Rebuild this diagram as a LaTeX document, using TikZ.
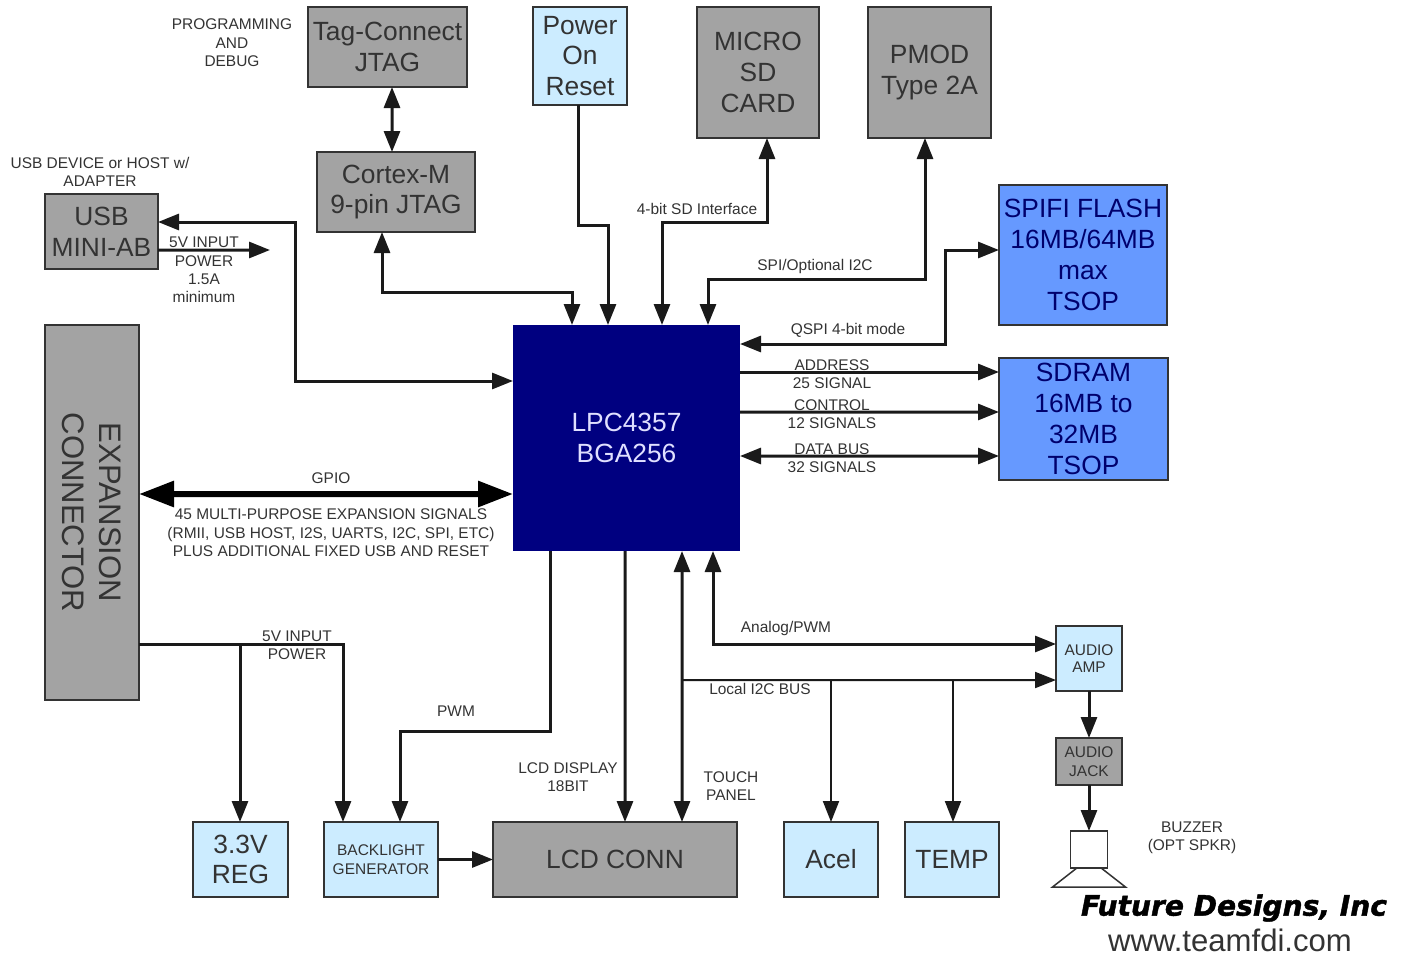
\documentclass[tikz,border=0pt]{standalone}
\usepackage{fontspec}
\setmainfont{Liberation Sans}
\newfontfamily\logofont[BoldItalicFeatures={FakeBold=1.5}]{DejaVu Sans}
\usetikzlibrary{shapes.geometric, arrows.meta, positioning}
\definecolor{grayblock}{HTML}{A3A3A3}
\definecolor{lightblock}{HTML}{CCECFF}
\definecolor{blueblock}{HTML}{6699FF}
\definecolor{chipblock}{HTML}{000080}
\definecolor{inkline}{HTML}{1A1A1A}
\definecolor{inktext}{HTML}{333333}

\begin{document}
\begin{tikzpicture}[node distance=1cm and 1cm]

  % styles
  \tikzstyle{block} = [rectangle, draw=inktext, line width=.04cm, outer sep=0pt, inner sep=0pt, align=center, text=inktext, font=\fontsize{15}{17.5}\selectfont]
  \tikzstyle{graybox} = [block, fill=grayblock]
  \tikzstyle{lightbox} = [block, fill=lightblock]
  \tikzstyle{bluebox} = [block, fill=blueblock, text=chipblock!85!black]
  \tikzstyle{note} = [align=center, text=inktext, font=\fontsize{8.8}{10.5}\selectfont]
  \tikzstyle{arrow} = [line width=.06cm, draw=inkline, >={Triangle[length=.42cm,width=.32cm]}]
  \tikzstyle{thinarrow} = [arrow, line width=.04cm]
  \tikzstyle{busarrow} = [line width=.12cm, draw=black, >={Triangle[length=.7cm,width=.5cm]}]

  \useasboundingbox (0,0) rectangle (28.02,-19.1);

  % chip
  \node (lpc) [rectangle, fill=chipblock, outer sep=0pt, minimum width=4.54cm, minimum height=4.52cm, align=center, text=white!88!blue, font=\fontsize{15}{17.5}\selectfont] at (12.53,-8.76) {LPC4357\\BGA256};

  % top row
  \node (por) [lightbox, minimum width=1.88cm, minimum height=1.96cm, above=4.4cm of lpc, xshift=-.93cm] {Power\\On\\Reset};
  \node (tag) [graybox, minimum width=3.18cm, minimum height=1.6cm, left=1.32cm of por.north west, anchor=north east] {Tag-Connect\\JTAG};
  \node (jtag) [graybox, minimum width=3.16cm, minimum height=1.6cm, below=1.3cm of tag, xshift=.17cm] {Cortex-M\\9-pin JTAG};
  \node (sd) [graybox, minimum width=2.44cm, minimum height=2.62cm, right=1.4cm of por.north east, anchor=north west] {MICRO\\SD\\CARD};
  \node (pmod) [graybox, minimum width=2.46cm, minimum height=2.62cm, right=.98cm of sd] {PMOD\\Type 2A};

  % right side
  \node (spifi) [bluebox, minimum width=3.36cm, minimum height=2.8cm, right=5.18cm of lpc.north east, anchor=south west] {SPIFI FLASH\\16MB/64MB\\max\\TSOP};
  \node (sdram) [bluebox, minimum width=3.38cm, minimum height=2.44cm, below=.66cm of spifi.south west, anchor=north west] {SDRAM\\16MB to\\32MB\\TSOP};

  % left side
  \node (usb) [graybox, minimum width=2.26cm, minimum height=1.5cm] at (2.03,-4.63) {USB\\MINI-AB};
  \node (exp) [graybox, rotate=-90, minimum width=7.5cm, minimum height=1.88cm, font=\fontsize{17.7}{21}\selectfont] at (1.84,-10.25) {EXPANSION\\CONNECTOR};

  % bottom row
  \node (reg) [lightbox, minimum width=1.9cm, minimum height=1.5cm] at (4.81,-17.19) {3.3V\\REG};
  \node (bl) [lightbox, minimum width=2.28cm, minimum height=1.5cm, right=.72cm of reg, font=\fontsize{8.8}{10.5}\selectfont] {BACKLIGHT\\GENERATOR};
  \node (lcd) [graybox, minimum width=4.88cm, minimum height=1.5cm, right=1.1cm of bl] {LCD CONN};
  \node (acel) [lightbox, minimum width=1.88cm, minimum height=1.5cm, right=.94cm of lcd] {Acel};
  \node (temp) [lightbox, minimum width=1.88cm, minimum height=1.5cm, right=.54cm of acel] {TEMP};

  % audio
  \node (amp) [lightbox, minimum width=1.32cm, minimum height=1.3cm, font=\fontsize{8.8}{10}\selectfont] at (21.78,-13.17) {AUDIO\\AMP};
  \node (jack) [graybox, minimum width=1.32cm, minimum height=.94cm, below=.94cm of amp, font=\fontsize{8.8}{10.5}\selectfont] {AUDIO\\JACK};
  \node (spk) [rectangle, draw=inktext, line width=.03cm, outer sep=0pt, minimum width=.74cm, minimum height=.74cm, below=.92cm of jack] {};
  \node (spkbase) [trapezium, trapezium left angle=45, trapezium right angle=45, trapezium stretches=true, draw=inktext, line width=.03cm, outer sep=0pt, inner sep=1pt, minimum width=1.46cm, minimum height=.38cm, below=0cm of spk] {};

  % bus tap points
  \coordinate (usbpower) at (5.4,-5);
  \coordinate (powertap) at (4.8,-12.88);
  \coordinate (i2cbus) at (13.64,-13.6);
  \coordinate (aceltap) at (16.62,-13.6);
  \coordinate (temptap) at (19.06,-13.6);

  % arrows
  \draw [arrow,<->] ([xshift=.09cm]tag.south) -- ([xshift=-.08cm]jtag.north);
  \draw [arrow,<->] ([xshift=-.28cm]jtag.south) -- ++(0,-1.2) -| ([xshift=1.18cm]lpc.north west);
  \draw [arrow,->] ([xshift=-.04cm]por.south) -- ++(0,-2.4) -| ([xshift=1.9cm]lpc.north west);
  \draw [arrow,<->] ([xshift=2.98cm]lpc.north west) -- ++(0,2.06) -| ([xshift=.18cm]sd.south);
  \draw [arrow,<->] ([xshift=3.9cm]lpc.north west) -- ++(0,.92) -| ([xshift=-.09cm]pmod.south);
  \draw [arrow,<->] ([yshift=-.38cm]lpc.north east) -- ++(4.1,0) |- ([yshift=.1cm]spifi.west);

  \draw [arrow,->] ([yshift=-.94cm]lpc.north east) -- ([yshift=.94cm]sdram.west);
  \draw [arrow,->] ([yshift=-1.74cm]lpc.north east) -- ([yshift=.14cm]sdram.west);
  \draw [arrow,<->] ([yshift=-2.62cm]lpc.north east) -- ([yshift=-.74cm]sdram.west);

  \draw [arrow,<->] ([yshift=-1.12cm]lpc.north west) -- ++(-4.36,0) |- ([yshift=.19cm]usb.east);
  \draw [arrow,->] ([yshift=-.37cm]usb.east) -- (usbpower);
  \draw [busarrow,<->] ([yshift=.37cm]exp.north) -- ([yshift=-1.12cm]lpc.west);

  \draw [arrow,->] ([yshift=-2.63cm]exp.north) -| ([xshift=-.76cm]bl.north);
  \draw [arrow,->] (powertap) -- (powertap |- reg.north);
  \draw [arrow,->] ([xshift=.74cm]lpc.south west) -- ++(0,-3.6) -| ([xshift=.38cm]bl.north);
  \draw [arrow,->] (bl) -- (lcd);

  \draw [arrow,->] ([xshift=2.24cm]lpc.south west) -- ([xshift=.2cm]lcd.north);
  \draw [arrow,<->] ([xshift=3.38cm]lpc.south west) -- ([xshift=1.34cm]lcd.north);
  \draw [arrow,<->] ([xshift=4cm]lpc.south west) |- ([yshift=.29cm]amp.west);
  \draw [thinarrow,->] (i2cbus) -- ([yshift=-.43cm]amp.west);
  \draw [thinarrow,->] (aceltap) -- (aceltap |- acel.north);
  \draw [thinarrow,->] (temptap) -- (temptap |- temp.north);

  \draw [arrow,->] (amp) -- (jack);
  \draw [arrow,->] (jack) -- (spk);

  % labels
  \node (debugnote) [note] at (4.64,-.86) {PROGRAMMING\\AND\\DEBUG};
  \node (usbnote) [note] at (2,-3.44) {USB DEVICE or HOST w/\\ADAPTER};
  \node (inputnote) [note] at (4.08,-5.4) {5V INPUT\\POWER\\1.5A\\minimum};
  \node (gpionote) [note] at (6.62,-9.56) {GPIO};
  \node (signalnote) [note] at (6.62,-10.66) {45 MULTI-PURPOSE EXPANSION SIGNALS\\(RMII, USB HOST, I2S, UARTS, I2C, SPI, ETC)\\PLUS ADDITIONAL FIXED USB AND RESET};
  \node (powernote) [note] at (5.94,-12.9) {5V INPUT\\POWER};
  \node (pwmnote) [note] at (9.12,-14.22) {PWM};
  \node (lcdnote) [note] at (11.36,-15.54) {LCD DISPLAY\\18BIT};
  \node (touchnote) [note] at (14.62,-15.72) {TOUCH\\PANEL};
  \node (i2cnote) [note] at (15.2,-13.78) {Local I2C BUS};
  \node (analognote) [note] at (15.72,-12.56) {Analog/PWM};
  \node (sdnote) [note] at (13.94,-4.18) {4-bit SD Interface};
  \node (spinote) [note] at (16.3,-5.32) {SPI/Optional I2C};
  \node (qspinote) [note] at (16.96,-6.6) {QSPI 4-bit mode};
  \node (addrnote) [note] at (16.64,-7.48) {ADDRESS\\25 SIGNAL};
  \node (ctrlnote) [note] at (16.64,-8.28) {CONTROL\\12 SIGNALS};
  \node (datanote) [note] at (16.64,-9.16) {DATA BUS\\32 SIGNALS};
  \node (buzzernote) [note] at (23.84,-16.76) {BUZZER\\(OPT SPKR)};

  % logo
  \node (logo) [inner sep=0pt, font=\logofont\bfseries\itshape\fontsize{16}{18}\selectfont] at (24.68,-18.16) {Future Designs, Inc};
  \node (web) [inner sep=0pt, text=inktext, font=\fontsize{17.7}{20}\selectfont] at (24.6,-18.8) {www.teamfdi.com};

\end{tikzpicture}
\end{document}
